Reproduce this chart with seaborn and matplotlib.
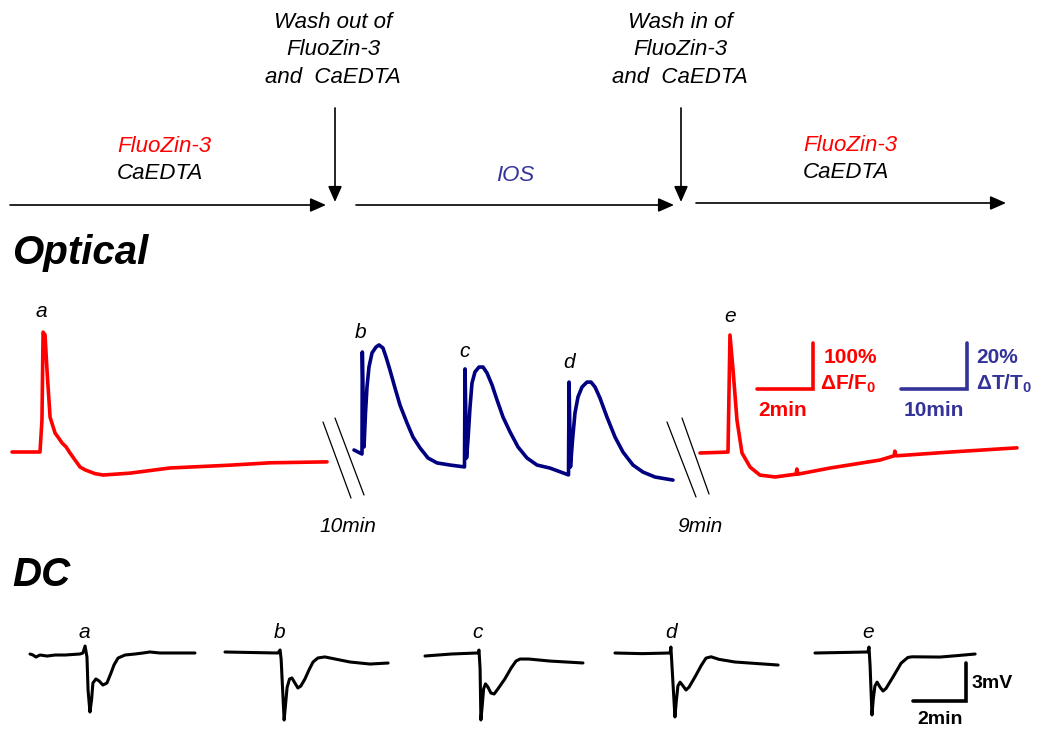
import matplotlib
matplotlib.use("Agg")
import matplotlib.pyplot as plt
import seaborn as sns
import pandas as pd

# ---------------- data ----------------
# Optical, FluoZin-3 fluorescence (time in min, dF/F0 in %)
red_a_t = [0, 1.0, 1.07, 1.11, 1.18, 1.25, 1.36, 1.54, 1.64, 1.79, 1.93, 2.07, 2.25, 2.43, 2.61, 2.96, 3.25, 4.21, 5.64, 7.79, 9.21, 11.25]
red_a_v = [0, 0, 68, 255, 249, 174, 74, 40, 32, 19, 11, -2, -17, -32, -38, -46, -49, -45, -34, -28, -23, -21]

# Optical, intrinsic optical signal (time in min, dT/T0 in %)
ios_t = [0, 1.21, 1.26, 1.52, 1.74, 1.97, 2.27, 2.73, 3.33, 3.79, 4.39, 4.85, 5.45, 6.21, 6.97, 8.03, 8.94,
         10.0, 11.21, 12.58, 14.55, 16.74,
         16.82, 17.05, 17.27, 17.58, 17.88, 18.33, 18.94, 19.55, 20.15, 20.91, 21.67, 22.58, 23.64, 24.85,
         26.21, 27.73, 29.70, 32.50,
         32.58, 32.80, 33.11, 33.48, 33.94, 34.55, 35.30, 35.91, 36.52, 37.27, 38.33, 39.55, 40.76, 42.27,
         43.79, 45.61, 48.33]
ios_v = [0, -1.7, 41.7, 1.3, 15.7, 26.8, 35.3, 41.3, 43.8, 44.7, 43.4, 39.6, 34.0, 26.4, 19.1, 11.5, 5.5,
         0.9, -3.4, -5.5, -6.4, -7.2,
         34.5, -3.4, 4.3, 18.3, 28.5, 33.2, 35.3, 35.3, 32.8, 27.7, 21.3, 14.0, 7.7, 1.3,
         -3.4, -6.4, -7.7, -10.6,
         28.9, -7.2, 4.3, 15.7, 22.6, 26.8, 28.9, 28.9, 26.8, 22.1, 14.0, 5.5, -0.9, -6.4,
         -9.4, -11.5, -12.8]

red_e_t = [0, 1.0, 1.07, 1.18, 1.32, 1.5, 1.79, 2.14, 2.68, 3.43, 3.46, 3.5, 4.64, 6.43, 6.93, 6.96, 7.0, 8.93, 11.32]
red_e_v = [0, 2, 251, 177, 70, 0, -30, -47, -51, -45, -34, -45, -32, -15, -6, 4, -6, 2, 11]

# DC potential (time in min, mV)
dc_a_t = [0, 0.11, 0.22, 0.37, 0.63, 0.93, 1.30, 1.85, 1.96, 2.04, 2.11, 2.15, 2.22, 2.28, 2.33, 2.44, 2.56,
          2.70, 2.85, 3.0, 3.11, 3.26, 3.52, 3.89, 4.19, 4.44, 4.81, 6.11]
dc_a_v = [0, -0.08, -0.24, -0.08, -0.16, -0.08, -0.08, 0, 0.08, 0.63, -0.24, -2.84, -4.58, -3.63, -2.29, -1.97,
          -2.13, -2.45, -2.29, -1.50, -0.87, -0.32, -0.08, 0, 0.08, 0.16, 0.08, 0.08]
dc_b_t = [0, 1.96, 2.04, 2.08, 2.13, 2.19, 2.24, 2.30, 2.39, 2.48, 2.59, 2.70, 2.81, 2.96, 3.11, 3.26, 3.44,
          3.70, 4.07, 4.63, 5.37, 6.04]
dc_b_v = [0, -0.08, 0.16, -0.6, -2.8, -5.37, -4.2, -2.8, -2.13, -2.05, -2.45, -2.84, -2.68, -2.13, -1.42,
          -0.79, -0.47, -0.39, -0.55, -0.79, -0.95, -0.87]
dc_c_t = [0, 1.0, 1.96, 2.0, 2.04, 2.07, 2.12, 2.17, 2.24, 2.33, 2.44, 2.56, 2.70, 2.96, 3.19, 3.37, 3.52,
          3.85, 4.63, 5.85]
dc_c_v = [0, 0.16, 0.24, 0.47, -1.0, -5.05, -3.9, -2.6, -2.2, -2.45, -2.92, -3.0, -2.6, -1.8, -0.95, -0.4,
          -0.24, -0.24, -0.4, -0.55]
dc_d_t = [0, 1.0, 2.04, 2.07, 2.11, 2.22, 2.27, 2.33, 2.41, 2.52, 2.63, 2.74, 2.96, 3.19, 3.37, 3.56, 3.85,
          4.44, 6.04]
dc_d_v = [0, -0.05, 0, 0.47, -1.0, -5.05, -3.8, -2.6, -2.3, -2.6, -2.92, -2.7, -1.9, -1.0, -0.4, -0.3, -0.5,
          -0.71, -0.95]
dc_e_t = [0, 1.0, 1.96, 2.0, 2.04, 2.11, 2.16, 2.22, 2.30, 2.41, 2.52, 2.63, 2.89, 3.19, 3.44, 3.60, 4.63,
          5.3, 5.93]
dc_e_v = [0, 0.04, 0.08, 0.47, -1.0, -4.89, -3.6, -2.6, -2.3, -2.7, -3.0, -2.8, -1.89, -0.8, -0.35, -0.3,
          -0.32, -0.2, -0.08]

trace_labels = ["a", "b", "c", "d", "e"]

# ---------------- figure ----------------
sns.set_theme(style="white")
plt.rcParams["font.family"] = ["Liberation Sans", "DejaVu Sans"]
plt.rcParams["text.color"] = "black"
plt.rcParams["mathtext.fontset"] = "custom"
plt.rcParams["mathtext.rm"] = "Liberation Sans"
plt.rcParams["mathtext.bf"] = "Liberation Sans:bold"
plt.rcParams["mathtext.it"] = "Liberation Sans:italic"

fig = plt.figure(figsize=(10.42, 7.37), dpi=100)
ax = fig.add_axes([0, 0, 1, 1])
ax.set_xlim(0, 1042)
ax.set_ylim(737, 0)
ax.axis("off")

RED = "#ff0000"
NAVY = "#000080"
PURPLE = "#333399"


def draw(t, v, x0, y0, sx, sy, color, lw):
    df = pd.DataFrame({"x": [x0 + ti * sx for ti in t], "y": [y0 - vi * sy for vi in v]})
    sns.lineplot(data=df, x="x", y="y", sort=False, estimator=None, color=color, lw=lw, ax=ax,
                 solid_joinstyle="round", solid_capstyle="round")


# optical traces
draw(red_a_t, red_a_v, 12, 452, 28, 0.47, RED, 2.6)
draw(ios_t, ios_v, 354, 450, 6.6, 2.35, NAVY, 2.6)
draw(red_e_t, red_e_v, 700, 453, 28, 0.47, RED, 2.6)

# DC traces
dc_traces = [(dc_a_t, dc_a_v, 30, 654), (dc_b_t, dc_b_v, 225, 652), (dc_c_t, dc_c_v, 425, 656),
             (dc_d_t, dc_d_v, 615, 653), (dc_e_t, dc_e_v, 815, 653)]
for t, v, x0, y0 in dc_traces:
    draw(t, v, x0, y0, 27, 12.67, "black", 2.2)

# ---------------- protocol arrows ----------------
AP = dict(arrowstyle="-|>,head_length=0.95,head_width=0.42", mutation_scale=10,
          lw=1.2, color="black", shrinkA=0, shrinkB=0)
for x1, x2, y in [(10, 326, 205), (356, 674, 205), (696, 1006, 203)]:
    ax.annotate("", xy=(x2, y), xytext=(x1, y), arrowprops=AP)
for x, y1, y2 in [(335, 108, 202), (681, 108, 202)]:
    ax.annotate("", xy=(x, y2), xytext=(x, y1), arrowprops=AP)

tk = dict(fontsize=16, style="italic", ha="center", va="center")
for i, s in enumerate(["Wash out of", "FluoZin-3", "and  CaEDTA"]):
    ax.text(333, 22 + i * 27.5, s, color="black", **tk)
for i, s in enumerate(["Wash in of", "FluoZin-3", "and  CaEDTA"]):
    ax.text(680, 22 + i * 27.5, s, color="black", **tk)

tl = dict(fontsize=16, style="italic", ha="left", va="center")
ax.text(117, 146, "FluoZin-3", color=RED, **tl)
ax.text(117, 173, "CaEDTA", color="black", **tl)
ax.text(803, 145, "FluoZin-3", color=RED, **tl)
ax.text(803, 172, "CaEDTA", color="black", **tl)
ax.text(515, 175, "IOS", color=PURPLE, **tk)

# section titles
ax.text(12, 253, "Optical", fontsize=29, fontweight="bold", style="italic", ha="left", va="center")
ax.text(12, 575, "DC", fontsize=29, fontweight="bold", style="italic", ha="left", va="center")

# optical trace letters
for s, (x, y) in zip(trace_labels, [(41, 311), (361, 332), (465, 351), (569, 362), (730, 316)]):
    ax.text(x, y, s, fontsize=15, style="italic", ha="center", va="center")
# DC trace letters
for s, x in zip(trace_labels, [84, 280, 478, 671, 868]):
    ax.text(x, 632, s, fontsize=15, style="italic", ha="center", va="center")

# break marks and gap durations
for (xa, ya, xb, yb) in [(323, 422, 351, 498), (335, 418, 364, 495), (667, 422, 696, 497), (682, 418, 709, 494)]:
    ax.plot([xa, xb], [ya, yb], color="black", lw=0.9)
ax.text(348, 527, "10min", fontsize=15, style="italic", ha="center", va="center")
ax.text(700, 527, "9min", fontsize=15, style="italic", ha="center", va="center")

# ---------------- scale bars ----------------
ax.plot([757, 813, 813], [389, 389, 343], color=RED, lw=2.6, solid_joinstyle="miter")
ax.text(824, 357, "100%", color=RED, fontsize=15, fontweight="bold", ha="left", va="center")
ax.text(820, 384, r"$\mathbf{\Delta F/F_0}$", color=RED, fontsize=15, ha="left", va="center")
ax.text(783, 410, "2min", color=RED, fontsize=15, fontweight="bold", ha="center", va="center")

ax.plot([901, 967, 967], [389, 389, 343], color=PURPLE, lw=2.6, solid_joinstyle="miter")
ax.text(976, 357, "20%", color=PURPLE, fontsize=15, fontweight="bold", ha="left", va="center")
ax.text(976, 384, r"$\mathbf{\Delta T/T_0}$", color=PURPLE, fontsize=15, ha="left", va="center")
ax.text(934, 410, "10min", color=PURPLE, fontsize=15, fontweight="bold", ha="center", va="center")

ax.plot([913, 966, 966], [701, 701, 663], color="black", lw=2.6, solid_joinstyle="miter")
ax.text(972, 683, "3mV", color="black", fontsize=14, fontweight="bold", ha="left", va="center")
ax.text(940, 719, "2min", color="black", fontsize=14, fontweight="bold", ha="center", va="center")

fig.savefig("out.png", dpi=100, facecolor="white")
